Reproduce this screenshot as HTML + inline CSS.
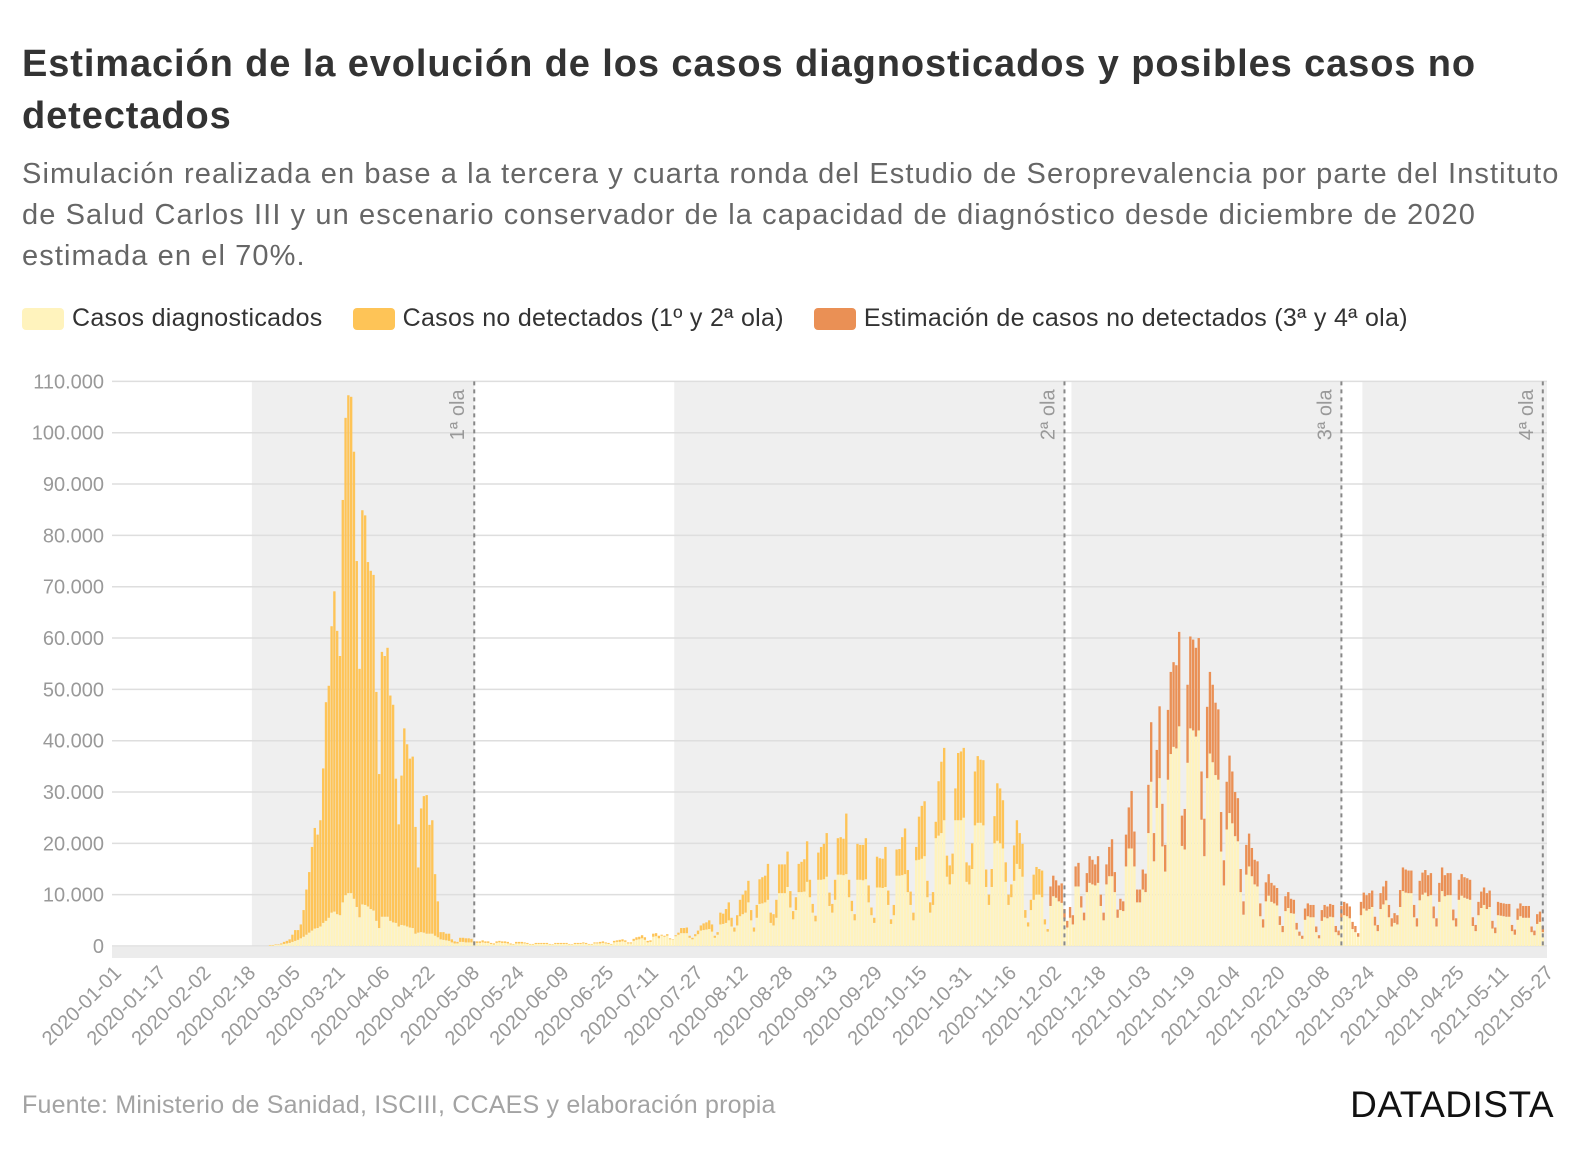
<!DOCTYPE html>
<html lang="es">
<head>
<meta charset="utf-8">
<title>Estimación de casos diagnosticados y no detectados</title>
<style>
  html,body{margin:0;padding:0;background:#fff;}
  body{width:1588px;height:1150px;position:relative;overflow:hidden;font-family:"Liberation Sans",sans-serif;}
  .title{position:absolute;left:22px;top:38px;font-size:38px;font-weight:bold;color:#333;line-height:52px;white-space:nowrap;letter-spacing:0.9px;}
  .subtitle{position:absolute;left:22px;top:154px;font-size:29px;color:#666;line-height:41px;white-space:nowrap;letter-spacing:1.1px;}
  .legend{position:absolute;left:22px;top:304px;font-size:25px;color:#333;display:flex;align-items:center;white-space:nowrap;letter-spacing:0.3px;}
  .legend .item{display:flex;align-items:center;margin-right:30px;}
  .legend .sw{width:42px;height:22px;border-radius:4px;margin-right:8px;}
  .source{position:absolute;left:22px;top:1091px;font-size:25px;color:#a3a3a3;white-space:nowrap;letter-spacing:0.2px;}
  .brand{position:absolute;right:34px;top:1084px;font-size:37px;color:#111;letter-spacing:0.5px;white-space:nowrap;}
  svg{position:absolute;left:0;top:0;}
</style>
</head>
<body>
<div class="title">Estimación de la evolución de los casos diagnosticados y posibles casos no<br>detectados</div>
<div class="subtitle">Simulación realizada en base a la tercera y cuarta ronda del Estudio de Seroprevalencia por parte del Instituto<br>de Salud Carlos III y un escenario conservador de la capacidad de diagnóstico desde diciembre de 2020<br>estimada en el 70%.</div>
<div class="legend">
  <div class="item"><div class="sw" style="background:#fff3bd"></div><span>Casos diagnosticados</span></div>
  <div class="item"><div class="sw" style="background:#fec457"></div><span>Casos no detectados (1º y 2ª ola)</span></div>
  <div class="item"><div class="sw" style="background:#ea9055"></div><span>Estimación de casos no detectados (3ª y 4ª ola)</span></div>
</div>
<svg id="chart" width="1588" height="1150"></svg>
<div class="source">Fuente: Ministerio de Sanidad, ISCIII, CCAES y elaboración propia</div>
<div class="brand">DATADISTA</div>
<script>
// ---- data (values in thousands of cases) ----
const startDate = '2020-01-01';
const nDays = 513;
const diagnosedStart = 56;   // index of 2020-02-26
const wave12Start = 56;
const wave34Start = 335;     // index of 2020-12-01
const diagnosed = [
.1,.1,.2,.2,.3,.4,.5,.6,.8,1.0,1.2,1.5,1.8,2.2,2.6,3.0,3.4,3.5,3.8,4.5,4.9,5.5,6.5,6.7,6.2,6.0,8.5,9.9,10.3,10.3,9.2,7.6,5.6,8.1,8,7.7,7.2,6.9,4.9,3.5,5.7,5.7,5.7,4.9,4.6,4.5,3.8,4.1,4.0,3.8,3.6,3.5,2.4,2.6,2.7,2.6,2.4,2.4,2.4,2.0,1.7,1.3,1.2,1.1,1.0,.7,.5,.5,.8,.8,.7,.7,.7,.5,
.6,.6,.7,.6,.6,.4,.3, .6,.7,.6,.6,.5,.3,.3, .5,.5,.5,.5,.4,.3,.3, .4,.4,.4,.4,.4,.3,.2, .4,.4,.4,.4,.4,.3,.2, .4,.4,.4,.5,.4,.3,.3, .5,.5,.5,.6,.5,.4,.3, .7,.8,.8,.9,.8,.5,.5, 1.0,1.2,1.3,1.5,1.2,.7,.8, 1.8,1.9,1.5,
2.0,1.8,2.0,1.3,1.2,1.9,2.2, 2.5,2.5,2.5,1.6,1.3,1.9,2.3, 3.0,3.1,3.2,3.3,2.8,1.6,2.2, 4.2,4.3,4.5,5.0,3.8,2.8,4.0, 5.8,6.2,6.5,8.5,5.0,2.8,5.5,
8.2,8.3,8.5,9.0,4.5,4.0,5.5, 10.3,10.3,10.3,11.5,7.5,5.2,7.0, 10.5,10.5,10.6,12.5,9.5,6.5,4.8, 12.9,12.9,13.0,13.5,7.8,6.5,9.0, 13.9,13.9,13.8,14.0,9.5,6.8,5.0,
12.9,12.9,12.8,13.0,8.5,6.0,4.5, 11.4,11.4,11.3,11.5,8.0,4.3,6.0, 13.7,13.7,13.8,14.0,10.5,8.0,5.0, 16.7,16.8,17.0,17.5,9.5,6.5,8.0, 21,21.5,22,24.5,13.5,12,14,
24.5,24.5,24.5,25.0,12.5,12,15, 23.5,24,24,23.5,11.5,8,11.5, 20,20.5,20,19,12.5,8,9.5, 12.7,16,15,13.5,5.5,3.8,7, 9,10,10,9.5,4.2,2.8,
7.8,9.7,9.4,8.7,8.4,5.2,3.6,5.5,4.2,11.6,11.6,7.5,5.0,10.5,12.3,12.0,11.8,12.3,7.8,5.0,12,13.6,13.6,10.5,5.5,7.0,6.8,
15.5,19,19,15.5,8.5,8.5,11,10.5,22,32,16.5,26.9,32.7,19.4,14.5,32.4,37.4,38.8,38.5,42.8,19.5,18.8,35.7,42.4,42,40.8,42,24.6,17.5,
32.7,37.5,35.8,33.3,32.4,18.4,11.8,22.7,25.9,23.9,21.4,20.4,10.5,6.1,13.9,15.5,13.6,12,11.6,5.8,3.6,8.7,9.8,8.6,8.3,7.9,4.1,2.7,
6.8,7.4,6.4,6.3,3.2,2.0,1.4,5.1,5.8,5.6,5.6,2.7,1.5,4.9,5.6,5.4,5.7,5.6,2.7,2.1,5.5,6.0,5.8,5.4,3.3,2.7,1.8,
6.0,7.3,6.9,7.2,7.6,4.0,2.9,7.2,8.1,8.9,5.6,3.8,4.5,4.2,7.6,10.7,10.4,10.3,10.3,5.6,3.8,8.9,10.0,10.4,9.7,9.9,5.4,3.8,
8.6,10.7,9.7,9.9,9.9,5.0,3.8,9.0,9.8,9.4,9.2,9.0,3.9,2.9,6.0,7.4,8.0,7.2,7.6,3.4,2.5,6.0,5.9,5.8,5.7,5.7,2.9,2.2,
5.1,5.8,5.5,5.5,5.5,2.7,2.1,4.3,4.7,2.7
];
const notDetected12 = [
.1,.1,.1,.1,.2,.4,.5,.7,1.4,2.1,1.9,2.7,5.2,8.8,11.8,16.3,19.6,18.2,20.7,30.1,42.6,45.2,55.8,62.4,55.2,50.5,78.4,93.0,97.0,96.7,87.1,67.4,48.4,76.8,75.9,67.1,65.9,65.4,44.6,30,51.6,50.8,52.4,43.9,42.4,28.1,19.9,29.1,38.4,35.5,32.9,33.4,20.8,12.7,24.1,26.6,27,21.2,22.1,12,7,1.4,1.5,1.3,1.4,.6,.4,.3,.8,.8,.8,.8,.7,.4,
.3,.3,.4,.3,.3,.2,.2, .3,.3,.3,.3,.3,.2,.1, .3,.3,.3,.2,.2,.1,.1, .2,.2,.2,.2,.2,.1,.1, .2,.2,.2,.2,.2,.1,.1, .2,.2,.2,.2,.2,.1,.1, .2,.2,.3,.3,.2,.2,.1, .3,.3,.4,.4,.3,.2,.2, .4,.5,.5,.6,.5,.3,.3, .6,.6,.5,
.2,.2,.3,.2,.1,.2,.4, 1.0,1.0,1.1,.4,.3,.4,.7, 1.0,1.3,1.4,1.7,1.4,.4,.5, 2.3,2.0,2.7,3.5,1.7,.8,2.0, 3.2,3.8,4.3,4.2,2.0,.8,2.5,
4.8,5.1,5.2,7.0,2.0,2.2,3.5, 5.6,5.6,5.6,6.9,3.2,1.6,2.5, 5.5,5.9,6.3,7.9,3.4,1.7,1.1, 5.3,6.4,6.9,8.5,2.6,1.7,3.9, 7.1,7.3,7.1,11.8,3.4,2.0,1.2,
7.0,6.8,6.9,8.0,3.3,1.5,1.0, 6.0,5.7,5.7,7.8,2.8,.9,2.0, 5.1,5.2,7.4,8.9,4.3,2.6,1.5, 2.6,8.4,10.3,10.7,3.2,2.0,2.5, 3.2,10.6,13.9,14.1,4.1,3.7,4.0,
6.2,13.1,13.4,13.6,3.8,3.7,5.0, 10.5,13,12.3,12.7,3.4,2,3.5, 5.3,11.2,10.7,9.4,3.8,2,2.5, 6.9,8.5,7,6.4,1.5,.8,2, 4.9,5.4,5,5.2,1.0,.5
];
const notDetected34 = [
3.8,4.0,3.4,3.1,3.8,2.0,1.3,2.1,1.8,3.9,4.6,2.2,1.5,3.7,5.2,4.8,4.1,5.2,2.2,1.5,3.9,5.7,7.2,3.9,1.6,2.2,1.9,
6.2,8,11.2,6.8,2.5,2.5,3.9,3.6,9.4,11.6,5.5,11.3,14,8.3,5.2,13.6,16,16.5,16.2,18.4,5.9,7.9,15.2,17.9,17.7,17.3,18,9.4,7.3,
13.9,15.9,15.1,14.1,13.7,7.7,4.9,9.3,11.2,10.1,8.6,8.4,4.5,2.6,5.8,6.4,5.5,4.8,4.9,2.5,1.6,3.7,4.2,3.7,3.5,3.4,1.7,1.2,
2.9,3.1,2.8,2.7,1.3,.8,.6,2.2,2.5,2.4,2.4,1.1,.6,2.1,2.4,2.3,2.5,2.4,1.2,.9,2.3,2.6,2.5,2.3,1.4,1.2,.7,
2.6,3.1,3.0,3.1,3.2,1.7,1.2,3.1,3.5,3.8,2.4,1.6,1.9,1.8,3.3,4.6,4.5,4.4,4.4,2.4,1.6,3.8,4.3,4.4,4.1,4.3,2.3,1.6,
3.7,4.6,4.1,4.3,4.3,2.1,1.6,3.9,4.2,4.0,4.0,3.9,1.7,1.2,2.6,3.2,3.4,3.1,3.2,1.5,1.1,2.6,2.5,2.5,2.5,2.5,1.2,1.0,
2.2,2.5,2.3,2.3,2.3,1.1,.9,1.9,2.0,1.2
];
const yTickValues = [0,10,20,30,40,50,60,70,80,90,100,110];
const yTickLabels = ['0','10.000','20.000','30.000','40.000','50.000','60.000','70.000','80.000','90.000','100.000','110.000'];
const xTickLabels = ['2020-01-01','2020-01-17','2020-02-02','2020-02-18','2020-03-05','2020-03-21','2020-04-06','2020-04-22','2020-05-08','2020-05-24','2020-06-09','2020-06-25','2020-07-11','2020-07-27','2020-08-12','2020-08-28','2020-09-13','2020-09-29','2020-10-15','2020-10-31','2020-11-16','2020-12-02','2020-12-18','2021-01-03','2021-01-19','2021-02-04','2021-02-20','2021-03-08','2021-03-24','2021-04-09','2021-04-25','2021-05-11','2021-05-27'];
const waveLabels = ['1ª ola','2ª ola','3ª ola','4ª ola'];
const waveDates = ['2020-05-09','2020-12-06','2021-03-15','2021-05-26'];
const shadedStarts = ['2020-02-20','2020-07-20','2020-12-09','2021-03-23'];
const shadedEnds = ['2020-05-09','2020-12-06','2021-03-15','2021-05-27'];

// ---- scales ----
const NS = 'http://www.w3.org/2000/svg';
const svg = document.getElementById('chart');
const plotL = 112, plotR = 1547, plotT = 381.4, plotB = 946;
const yMax = 110;
const step = (plotR - plotL) / nDays;
const dayMs = 86400000;
const t0 = Date.parse(startDate + 'T00:00:00Z');
function dayIndex(d){ return Math.round((Date.parse(d + 'T00:00:00Z') - t0) / dayMs); }
function xStart(i){ return plotL + i * step; }
function xCenter(i){ return plotL + (i + 0.5) * step; }
function y(v){ return plotB - v / yMax * (plotB - plotT); }
function mk(tag, attrs){ const e = document.createElementNS(NS, tag); for (const k in attrs) e.setAttribute(k, attrs[k]); svg.appendChild(e); return e; }

// shaded periods
shadedStarts.forEach((s, k) => {
  const x0 = xStart(dayIndex(s));
  const x1 = k === shadedStarts.length - 1 ? plotR : xCenter(dayIndex(shadedEnds[k]));
  const r = mk('rect', {x: x0, y: plotT, width: x1 - x0, height: plotB - plotT, fill: '#efefef'});
  
  
});

// gridlines + y labels
yTickValues.forEach((v, k) => {
  const g = mk('line', {x1: plotL, x2: plotR, y1: y(v), y2: y(v), stroke: '#dedede', 'stroke-width': 1.5});
  
  
  const t = mk('text', {x: 104, y: y(v) + 7, 'text-anchor': 'end', 'font-size': 20, fill: '#999', 'font-family': 'Liberation Sans, sans-serif'});
  t.textContent = yTickLabels[k];
  
  
});

// bars
for (let i = 0; i < nDays; i++) {
  const di = i - diagnosedStart;
  const d = (di >= 0 && di < diagnosed.length) ? diagnosed[di] : 0;
  const u12i = i - wave12Start;
  const u12 = (u12i >= 0 && u12i < notDetected12.length) ? notDetected12[u12i] : 0;
  const u34i = i - wave34Start;
  const u34 = (u34i >= 0 && u34i < notDetected34.length) ? notDetected34[u34i] : 0;
  const bx = xStart(i) + step * 0.08, bw = step * 0.84;
  if (d > 0) {
    const r = mk('rect', {x: bx, y: y(d), width: bw, height: y(0) - y(d), fill: '#fff3bd'});
    
    
  }
  if (u12 > 0) {
    const r = mk('rect', {x: bx, y: y(d + u12), width: bw, height: y(d) - y(d + u12), fill: '#fec457'});
    
    
  }
  if (u34 > 0) {
    const r = mk('rect', {x: bx, y: y(d + u12 + u34), width: bw, height: y(d + u12) - y(d + u12 + u34), fill: '#ea9055'});
    
    
  }
}

// tick strip below axis
const strip = mk('rect', {x: plotL, y: plotB + 1, width: plotR - plotL, height: 11, fill: '#ececec'});



// x tick labels
xTickLabels.forEach(lbl => {
  const cx = xCenter(dayIndex(lbl));
  const t = mk('text', {x: cx + 9, y: plotB + 28, 'text-anchor': 'end', 'font-size': 20, fill: '#999', 'font-family': 'Liberation Sans, sans-serif', transform: 'rotate(-45 ' + (cx + 9) + ' ' + (plotB + 28) + ')'});
  t.textContent = lbl;
  
  
});

// wave lines & labels
waveDates.forEach((d, k) => {
  const lx = xCenter(dayIndex(d));
  const l = mk('line', {x1: lx, x2: lx, y1: plotT, y2: plotB, stroke: '#888', 'stroke-width': 2, 'stroke-dasharray': '4 4'});
  
  
  const tx = lx - 10, ty = plotT + 8;
  const t = mk('text', {x: tx, y: ty, 'text-anchor': 'end', 'font-size': 20, fill: '#999', 'font-family': 'Liberation Sans, sans-serif', transform: 'rotate(-90 ' + tx + ' ' + ty + ')'});
  t.textContent = waveLabels[k];
  
  
});
</script>
</body>
</html>
